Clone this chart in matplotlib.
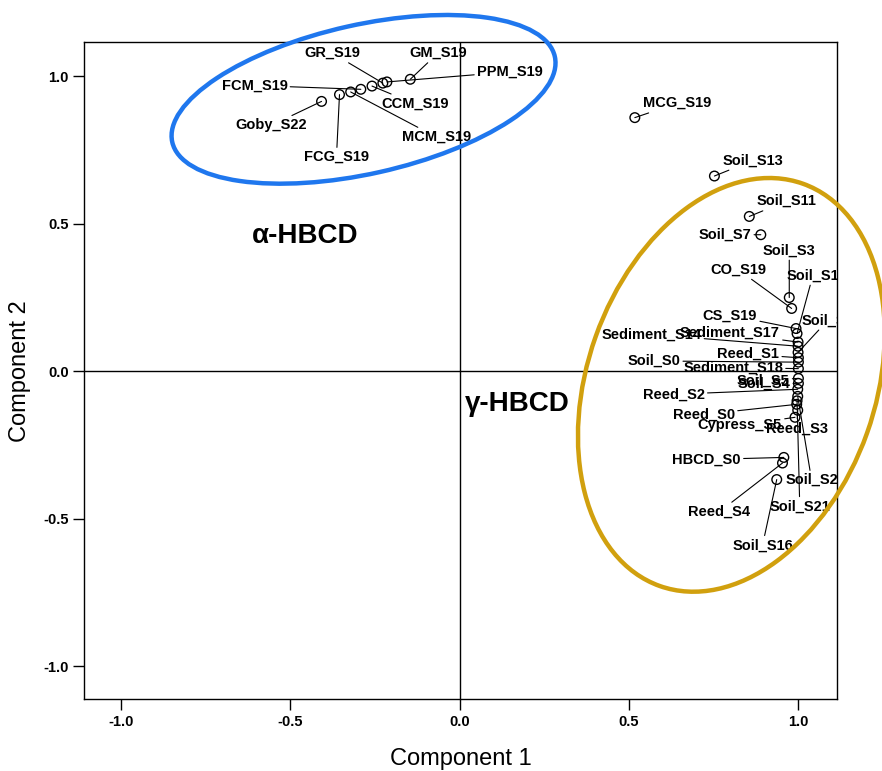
import matplotlib
matplotlib.use("Agg")
import matplotlib.pyplot as plt
from matplotlib.patches import Ellipse
from matplotlib.transforms import ScaledTranslation

plt.rcParams['font.family'] = ['Liberation Sans', 'DejaVu Sans']
plt.rcParams['axes.unicode_minus'] = False

# component loadings
names = ["Goby_S22", "FCG_S19", "MCM_S19", "FCM_S19", "CCM_S19", "GR_S19", "PPM_S19", "GM_S19",
         "MCG_S19", "Soil_S13", "Soil_S11", "Soil_S7", "Soil_S3", "CO_S19", "CS_S19", "Soil_S1",
         "Sediment_S17", "Sediment_S14", "Soil_S6", "Reed_S1", "Soil_S0", "Sediment_S18",
         "Soil_S5", "Soil_S4", "Reed_S2", "Soil_S2", "Soil_S21", "Reed_S0", "Reed_S3",
         "Cypress_S5", "HBCD_S0", "Reed_S4", "Soil_S16"]
comp1 = [-0.408, -0.355, -0.322, -0.292, -0.259, -0.227, -0.215, -0.146,
         0.517, 0.752, 0.855, 0.889, 0.973, 0.980, 0.993, 0.996,
         0.999, 0.999, 0.999, 1.000, 1.000, 1.000,
         1.000, 1.000, 0.998, 0.998, 0.996, 0.995, 0.998,
         0.990, 0.957, 0.953, 0.936]
comp2 = [0.915, 0.938, 0.947, 0.956, 0.967, 0.977, 0.981, 0.990,
         0.860, 0.662, 0.525, 0.463, 0.250, 0.213, 0.145, 0.128,
         0.099, 0.085, 0.064, 0.046, 0.031, 0.009,
         -0.024, -0.041, -0.061, -0.085, -0.100, -0.112, -0.132,
         -0.156, -0.292, -0.311, -0.367]

# label placement (text centre unless noted)
label_pos = {
    "Goby_S22": (-0.556, 0.834), "FCG_S19": (-0.364, 0.726), "MCM_S19": (-0.069, 0.794),
    "FCM_S19": (-0.606, 0.969), "CCM_S19": (-0.133, 0.907), "GR_S19": (-0.377, 1.079),
    "PPM_S19": (0.148, 1.015), "GM_S19": (-0.064, 1.079), "MCG_S19": (0.643, 0.909),
    "Soil_S13": (0.866, 0.715), "Soil_S11": (0.965, 0.577), "Soil_S7": (0.783, 0.463),
    "Soil_S3": (0.973, 0.410), "CO_S19": (0.822, 0.345), "CS_S19": (0.798, 0.190),
    "Soil_S1": (0.965, 0.325), "Sediment_S17": (0.798, 0.130), "Sediment_S14": (0.566, 0.125),
    "Soil_S6": (1.009, 0.173), "Reed_S1": (0.852, 0.058), "Soil_S0": (0.573, 0.035),
    "Sediment_S18": (0.807, 0.013), "Soil_S5": (0.896, -0.031), "Soil_S4": (0.898, -0.041),
    "Reed_S2": (0.632, -0.078), "Soil_S2": (1.039, -0.369), "Soil_S21": (1.004, -0.458),
    "Reed_S0": (0.721, -0.146), "Reed_S3": (0.995, -0.194), "Cypress_S5": (0.827, -0.183),
    "HBCD_S0": (0.729, -0.299), "Reed_S4": (0.766, -0.477), "Soil_S16": (0.894, -0.590),
}
left_aligned = ["Soil_S1", "Soil_S6"]

fig = plt.figure(figsize=(8.82, 7.71), dpi=100)
ax = fig.add_axes([0.095, 0.093, 0.854, 0.852])

ax.set_xlim(-1.11, 1.114)
ax.set_ylim(-1.112, 1.115)

ax.axhline(0, color='k', lw=1.0, zorder=0.5)
ax.axvline(0, color='k', lw=1.0, zorder=0.5)

ax.scatter(comp1, comp2, s=48, facecolors='none', edgecolors='k', linewidths=1.0, zorder=2)

for name, x, y in zip(names, comp1, comp2):
    tx, ty = label_pos[name]
    ha = 'left' if name in left_aligned else 'center'
    ann = ax.annotate(name, xy=(x, y), xytext=(tx, ty), ha=ha, va='center',
                      fontsize=10.5, fontweight='bold',
                      arrowprops=dict(arrowstyle='-', color='k', lw=0.8,
                                      shrinkA=0, shrinkB=0))
    ann.set_clip_on(True)
    ann.set_clip_box(ax.bbox)

ax.text(-0.615, 0.459, "\u03b1-HBCD", fontsize=20, fontweight='bold', ha='left', va='center')
ax.text(0.015, -0.110, "\u03b3-HBCD", fontsize=20, fontweight='bold', ha='left', va='center')

# group rings, sized in inches around a data-space centre
def ring(cx, cy, w, h, ang, color):
    e = Ellipse((0, 0), w, h, angle=ang, fill=False, ec=color, lw=3.2, clip_on=False,
                transform=fig.dpi_scale_trans + ScaledTranslation(cx, cy, ax.transData),
                zorder=5)
    ax.add_artist(e)

ring(-0.284, 0.922, 3.92, 1.49, 12.6, "#1f77ee")
ring(0.802, -0.046, 2.88, 4.27, -19.6, "#d1a00e")

ticks = [-1.0, -0.5, 0.0, 0.5, 1.0]
ax.set_xticks(ticks)
ax.set_yticks(ticks)
ax.set_xticklabels([f"{t:.1f}" for t in ticks], fontweight='bold')
ax.set_yticklabels([f"{t:.1f}" for t in ticks], fontweight='bold')
ax.tick_params(direction='out', length=8, width=1.0, labelsize=10.5, pad=3)
for s in ax.spines.values():
    s.set_linewidth(1.0)

ax.set_xlabel("Component 1", fontsize=17, labelpad=14)
ax.set_ylabel("Component 2", fontsize=17, labelpad=9)

fig.savefig("out.png", dpi=100)
